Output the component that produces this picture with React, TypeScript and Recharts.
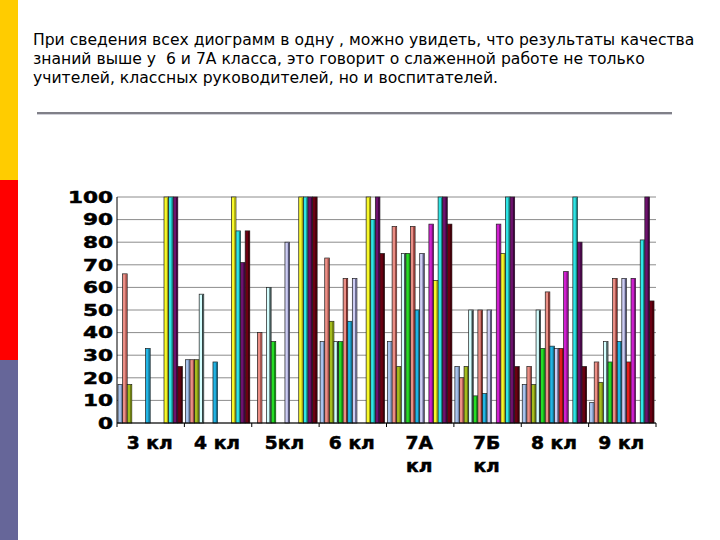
import { BarChart, Bar, XAxis, YAxis, CartesianGrid } from "recharts";

// classes along the x axis
const CLASSES = ["3 кл", "4 кл", "5кл", "6 кл", "7А кл", "7Б кл", "8 кл", "9 кл"];
const Y_TICKS = [0, 10, 20, 30, 40, 50, 60, 70, 80, 90, 100];

// quality of knowledge (%) per series, one value per class
const s1 = [17, 28, 0, 36, 36, 25, 17, 9];
const s2 = [66, 28, 40, 73, 87, 20, 25, 27];
const s3 = [17, 28, 0, 45, 25, 25, 17, 18];
const s4 = [0, 57, 60, 36, 75, 50, 50, 36];
const s5 = [0, 0, 36, 36, 75, 12, 33, 27];
const s6 = [0, 0, 0, 64, 87, 50, 58, 64];
const s7 = [33, 27, 0, 45, 50, 13, 34, 36];
const s8 = [0, 0, 80, 64, 75, 50, 33, 64];
const s9 = [0, 0, 0, 0, 0, 0, 33, 27];
const s10 = [0, 0, 0, 0, 88, 88, 67, 64];
const s11 = [100, 100, 100, 100, 63, 75, 0, 0];
const s12 = [100, 85, 100, 90, 100, 100, 100, 81];
const s13 = [100, 71, 100, 100, 100, 100, 80, 100];
const s14 = [25, 85, 100, 75, 88, 25, 25, 54];

const SERIES = [s1, s2, s3, s4, s5, s6, s7, s8, s9, s10, s11, s12, s13, s14];

const COLORS = [
  "#a9c4ec", "#ec8f86", "#a4bc1e", "#d4ffff", "#26dc26", "#ea8f86", "#22b5e5",
  "#cdcdf4", "#e41e1e", "#d020d0", "#f8f82a", "#30e6e6", "#6e126e", "#6c0012",
];
const SIDES = [
  "#6f87b0", "#9a4a44", "#6a7a10", "#2a3a3a", "#128a12", "#7a2a26", "#12708e",
  "#55557a", "#8a0e0e", "#7a107a", "#a0a010", "#128a8a", "#3a063a", "#3a0008",
];

const chartData = CLASSES.map((name, i) => {
  const row: Record<string, string | number> = { name };
  SERIES.forEach((vals, k) => {
    row[`s${k + 1}`] = vals[i];
  });
  return row;
});

const AXIS_FONT = "'DejaVu Sans', Verdana, sans-serif";

function Bar3D(props: any) {
  const { x, y, width, height, fill, side } = props;
  if (!height || height <= 0) return null;
  const strip = Math.min(1.4, width * 0.3);
  return (
    <g>
      <rect x={x} y={y} width={width} height={height} fill={fill} stroke="#1c1c1c" strokeWidth={0.7} />
      <rect x={x + width - strip - 0.35} y={y + 0.35} width={strip} height={height - 0.7} fill={side} />
    </g>
  );
}

function YTick({ x, y, payload }: any) {
  return (
    <text
      transform={`translate(${x - 4},${y}) scale(1.35,1)`}
      textAnchor="end"
      dominantBaseline="central"
      fontFamily={AXIS_FONT}
      fontWeight="bold"
      fontSize={16}
      fill="#000"
      stroke="#000"
      strokeWidth={0.5}
    >
      {payload.value}
    </text>
  );
}

function XTick({ x, y, payload, index }: any) {
  const label = String(payload.value);
  const lines = label.length > 4 ? label.split(" ") : [label];
  const half = payload.offset ?? 33.7;
  return (
    <g>
      <line x1={x - half} x2={x - half} y1={y} y2={y + 4} stroke="#000" />
      {index === CLASSES.length - 1 && <line x1={x + half} x2={x + half} y1={y} y2={y + 4} stroke="#000" />}
      {lines.map((t, i) => (
        <text
          key={i}
          transform={`translate(${x - 1},${y + 20 + i * 23}) scale(1.1,1)`}
          textAnchor="middle"
          dominantBaseline="central"
          fontFamily={AXIS_FONT}
          fontWeight="bold"
          fontSize={17}
          fill="#000"
          stroke="#000"
          strokeWidth={0.5}
        >
          {t}
        </text>
      ))}
    </g>
  );
}

export default function App() {
  return (
    <div style={{ position: "absolute", left: 0, top: 0, width: 720, height: 540, background: "#fff", overflow: "hidden" }}>
      <div style={{ position: "absolute", left: 0, top: 0, width: 18, height: 180, background: "#ffcc00" }} />
      <div style={{ position: "absolute", left: 0, top: 180, width: 18, height: 180, background: "#ff0000" }} />
      <div style={{ position: "absolute", left: 0, top: 360, width: 18, height: 180, background: "#666699" }} />

      <div
        style={{
          position: "absolute",
          left: 33,
          top: 31,
          width: 690,
          fontFamily: AXIS_FONT,
          fontSize: 15.6,
          lineHeight: "19px",
          color: "#000",
          whiteSpace: "nowrap",
        }}
      >
        При сведения всех диограмм в одну , можно увидеть, что результаты качества
        <br />
        знаний выше у&nbsp; 6 и 7А класса, это говорит о слаженной работе не только
        <br />
        учителей, классных руководителей, но и воспитателей.
      </div>
      <div style={{ position: "absolute", left: 37, top: 112, width: 635, height: 2, background: "#808088" }} />
      <div style={{ position: "absolute", left: 37, top: 114, width: 635, height: 1, background: "#d0d0d8" }} />

      <div style={{ position: "absolute", left: 0, top: 0 }}>
        <BarChart
          width={720}
          height={540}
          data={chartData}
          margin={{ top: 197, right: 64, bottom: 57, left: 57 }}
          barSize={4.6}
          barGap={0}
        >
          <CartesianGrid vertical={false} stroke="#8c8c8c" />
          <XAxis
            dataKey="name"
            height={60}
            interval={0}
            tickSize={0}
            tickMargin={0}
            axisLine={{ stroke: "#000" }}
            tick={<XTick />}
          />
          <YAxis
            width={60}
            domain={[0, 100]}
            ticks={Y_TICKS}
            interval={0}
            tickSize={0}
            tickMargin={0}
            axisLine={{ stroke: "#000" }}
            tick={<YTick />}
          />
          {SERIES.map((_, k) => (
            <Bar
              key={k}
              dataKey={`s${k + 1}`}
              fill={COLORS[k]}
              isAnimationActive={false}
              shape={(p: any) => <Bar3D {...p} side={SIDES[k]} />}
            />
          ))}
        </BarChart>
      </div>
    </div>
  );
}
